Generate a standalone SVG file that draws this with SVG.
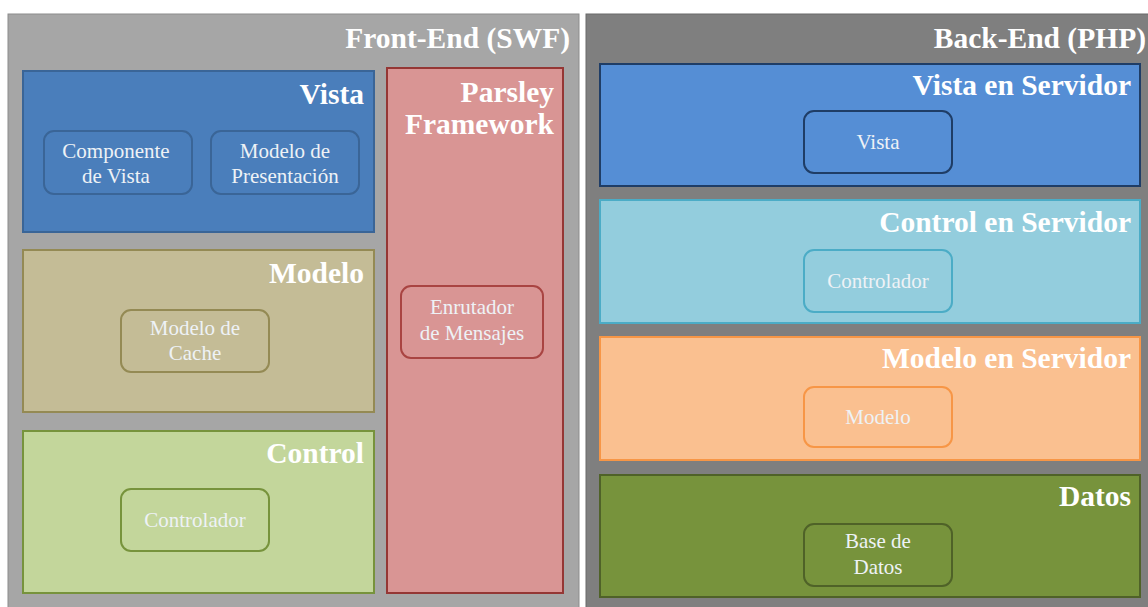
<svg xmlns="http://www.w3.org/2000/svg" width="1148" height="607" viewBox="0 0 1148 607">
  <style>
    .title { font-family: "Liberation Serif", "Times New Roman", serif; font-weight: bold; font-size: 29.5px; fill: #ffffff; text-anchor: end; }
    .label { font-family: "Liberation Serif", "Times New Roman", serif; font-size: 21px; fill: #eef2f6; text-anchor: middle; }
    .sub { stroke-width: 2; rx: 10; ry: 10; }
    .layer { stroke-width: 2; }
  </style>
  <rect x="0" y="0" width="1148" height="607" fill="#ffffff"/>

  <!-- Front-End container -->
  <g id="frontend">
    <rect x="8" y="14" width="571" height="600" fill="#a6a6a6" stroke="#8c8c8c" stroke-width="1"/>
    <text class="title" x="570" y="48">Front-End (SWF)</text>
  </g>

  <g id="vista">
    <rect class="layer" x="23" y="71" width="351" height="161" fill="#4a7ebb" stroke="#3a6597"/>
    <text class="title" x="364" y="104">Vista</text>
    <g id="componente-vista">
      <rect class="sub" x="44" y="131" width="148" height="63" fill="#4a7ebb" stroke="#3a6597"/>
      <text class="label" x="116" y="158">Componente</text>
      <text class="label" x="116" y="183">de Vista</text>
    </g>
    <g id="modelo-presentacion">
      <rect class="sub" x="211" y="131" width="148" height="63" fill="#4a7ebb" stroke="#3a6597"/>
      <text class="label" x="285" y="158">Modelo de</text>
      <text class="label" x="285" y="183">Presentación</text>
    </g>
  </g>

  <g id="modelo">
    <rect class="layer" x="23" y="250" width="351" height="162" fill="#c4bc96" stroke="#948a54"/>
    <text class="title" x="364" y="283">Modelo</text>
    <g id="modelo-cache">
      <rect class="sub" x="121" y="310" width="148" height="62" fill="#c4bc96" stroke="#948a54"/>
      <text class="label" x="195" y="335">Modelo de</text>
      <text class="label" x="195" y="360">Cache</text>
    </g>
  </g>

  <g id="control">
    <rect class="layer" x="23" y="431" width="351" height="162" fill="#c3d69b" stroke="#77933c"/>
    <text class="title" x="364" y="463">Control</text>
    <g id="controlador-cliente">
      <rect class="sub" x="121" y="489" width="148" height="62" fill="#c3d69b" stroke="#77933c"/>
      <text class="label" x="195" y="527">Controlador</text>
    </g>
  </g>

  <g id="parsley">
    <rect class="layer" x="387" y="68" width="176" height="525" fill="#d99594" stroke="#953735"/>
    <text class="title" x="554" y="102">Parsley</text>
    <text class="title" x="554" y="134">Framework</text>
    <g id="enrutador">
      <rect class="sub" x="401" y="286" width="142" height="72" fill="#d99594" stroke="#a94442"/>
      <text class="label" x="472" y="314">Enrutador</text>
      <text class="label" x="472" y="340">de Mensajes</text>
    </g>
  </g>

  <!-- Back-End container -->
  <g id="backend">
    <rect x="586" y="14" width="570" height="600" fill="#7f7f7f" stroke="#6a6a6a" stroke-width="1"/>
    <text class="title" x="1146" y="48">Back-End (PHP)</text>
  </g>

  <g id="vista-servidor">
    <rect class="layer" x="600" y="64" width="540" height="122" fill="#558ed5" stroke="#1f3d66"/>
    <text class="title" x="1131" y="95">Vista en Servidor</text>
    <g id="vista-srv">
      <rect class="sub" x="804" y="111" width="148" height="62" fill="#558ed5" stroke="#1f3d66"/>
      <text class="label" x="878" y="149">Vista</text>
    </g>
  </g>

  <g id="control-servidor">
    <rect class="layer" x="600" y="200" width="540" height="123" fill="#93cddd" stroke="#4bacc6"/>
    <text class="title" x="1131" y="232">Control en Servidor</text>
    <g id="controlador-srv">
      <rect class="sub" x="804" y="250" width="148" height="62" fill="#93cddd" stroke="#4bacc6"/>
      <text class="label" x="878" y="288">Controlador</text>
    </g>
  </g>

  <g id="modelo-servidor">
    <rect class="layer" x="600" y="337" width="540" height="123" fill="#fac090" stroke="#f79646"/>
    <text class="title" x="1131" y="368">Modelo en Servidor</text>
    <g id="modelo-srv">
      <rect class="sub" x="804" y="387" width="148" height="60" fill="#fac090" stroke="#f79646"/>
      <text class="label" x="878" y="424">Modelo</text>
    </g>
  </g>

  <g id="datos">
    <rect class="layer" x="600" y="475" width="540" height="122" fill="#77933c" stroke="#4f6228"/>
    <text class="title" x="1131" y="506">Datos</text>
    <g id="base-datos">
      <rect class="sub" x="804" y="524" width="148" height="62" fill="#77933c" stroke="#4f6228"/>
      <text class="label" x="878" y="548">Base de</text>
      <text class="label" x="878" y="574">Datos</text>
    </g>
  </g>

  <!-- no connectors between layers -->
  <g id="connectors"/>
</svg>
